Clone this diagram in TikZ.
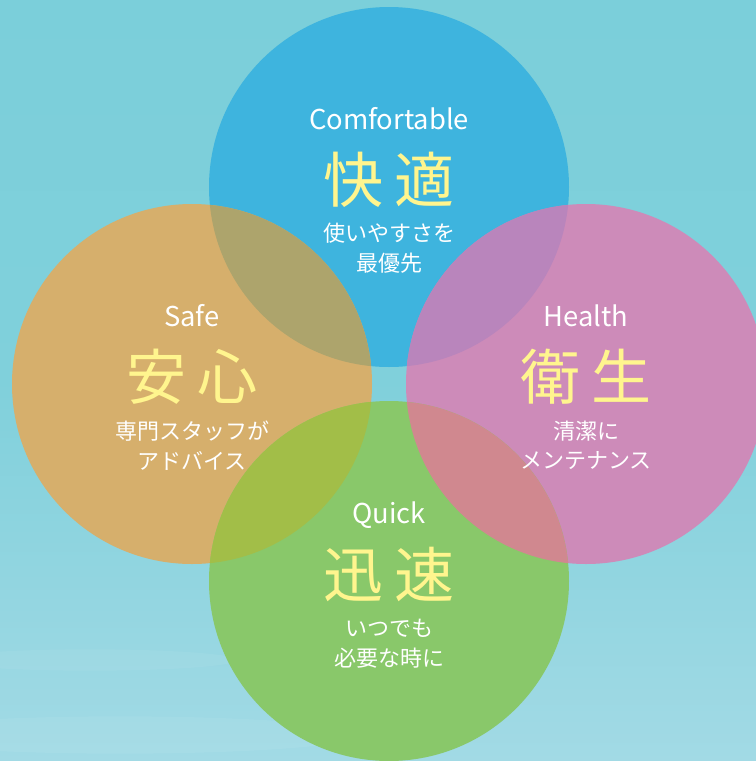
\documentclass[tikz,border=0pt]{standalone}
\usepackage{fontspec}
\setmainfont{Noto Sans CJK JP}
\newfontfamily\jpfont{Noto Sans CJK JP}
\definecolor{bgtop}{HTML}{7BCFDA}
\definecolor{bgmid}{HTML}{80D0DB}
\definecolor{bgbot}{HTML}{A2DAE5}
\definecolor{cblue}{HTML}{3EB4DE}
\definecolor{corange}{HTML}{D6AF6C}
\definecolor{cpink}{HTML}{CD8BB9}
\definecolor{cgreen}{HTML}{89C86A}
\definecolor{xbo}{HTML}{ADA46C}
\definecolor{xbp}{HTML}{B985BC}
\definecolor{xog}{HTML}{A2BE48}
\definecolor{xpg}{HTML}{D0888F}
\definecolor{kanjiyellow}{HTML}{FFF58E}
\tikzset{
  entext/.style={text=white, font=\jpfont\fontsize{20.5pt}{24pt}\selectfont, anchor=base, inner sep=0pt},
  kanjitext/.style={text=kanjiyellow, font=\jpfont\fontsize{45pt}{50pt}\selectfont, anchor=center, inner sep=0pt},
  subtext/.style={text=white, font=\jpfont\fontsize{16.5pt}{22.5pt}\selectfont, anchor=center, inner sep=0pt, align=center},
}
\newcommand{\circr}{135pt}
\begin{document}
\begin{tikzpicture}[x=0.75pt,y=-0.75pt]
\useasboundingbox (0,0) rectangle (756,761);
% background
\shade[top color=bgtop, bottom color=bgbot, middle color=bgmid] (0,0) rectangle (756,761);
\fill[white, opacity=0.06] (120,735) ellipse (180pt and 14pt);
\fill[white, opacity=0.05] (90,660) ellipse (110pt and 8pt);
% circle centres
\coordinate (ctop) at (389,187);
\coordinate (cleft) at (192,384);
\coordinate (cright) at (586,384);
\coordinate (cbot) at (389,581);
% circles
\fill[cblue] (ctop) circle[radius=\circr];
\fill[corange] (cleft) circle[radius=\circr];
\fill[cpink] (cright) circle[radius=\circr];
\fill[cgreen] (cbot) circle[radius=\circr];
% overlaps
\begin{scope}
  \clip (ctop) circle[radius=\circr];
  \fill[xbo] (cleft) circle[radius=\circr];
  \fill[xbp] (cright) circle[radius=\circr];
\end{scope}
\begin{scope}
  \clip (cbot) circle[radius=\circr];
  \fill[xog] (cleft) circle[radius=\circr];
  \fill[xpg] (cright) circle[radius=\circr];
\end{scope}
% top: Comfortable
\node[entext] (en1) at ([yshift=58*0.75pt]ctop) {Comfortable};
\node[kanjitext] (kj1) at ([yshift=7*0.75pt]ctop) {快\hspace{8pt}適};
\node[subtext] (s1a) at ([yshift=-46*0.75pt]ctop) {使いやすさを};
\node[subtext] (s1b) at ([yshift=-76*0.75pt]ctop) {最優先};
% left: Safe
\node[entext] (en2) at ([yshift=58*0.75pt]cleft) {Safe};
\node[kanjitext] (kj2) at ([yshift=7*0.75pt]cleft) {安\hspace{8pt}心};
\node[subtext] (s2a) at ([yshift=-47*0.75pt]cleft) {専門スタッフが};
\node[subtext] (s2b) at ([yshift=-77*0.75pt]cleft) {アドバイス};
% right: Health
\node[entext] (en3) at ([yshift=58*0.75pt]cright) {Health};
\node[kanjitext] (kj3) at ([yshift=7*0.75pt]cright) {衛\hspace{8pt}生};
\node[subtext] (s3a) at ([yshift=-47*0.75pt]cright) {清潔に};
\node[subtext] (s3b) at ([yshift=-77*0.75pt]cright) {メンテナンス};
% bottom: Quick
\node[entext] (en4) at ([yshift=58*0.75pt]cbot) {Quick};
\node[kanjitext] (kj4) at ([yshift=7*0.75pt]cbot) {迅\hspace{8pt}速};
\node[subtext] (s4a) at ([yshift=-47*0.75pt]cbot) {いつでも};
\node[subtext] (s4b) at ([yshift=-77*0.75pt]cbot) {必要な時に};
\end{tikzpicture}
\end{document}
